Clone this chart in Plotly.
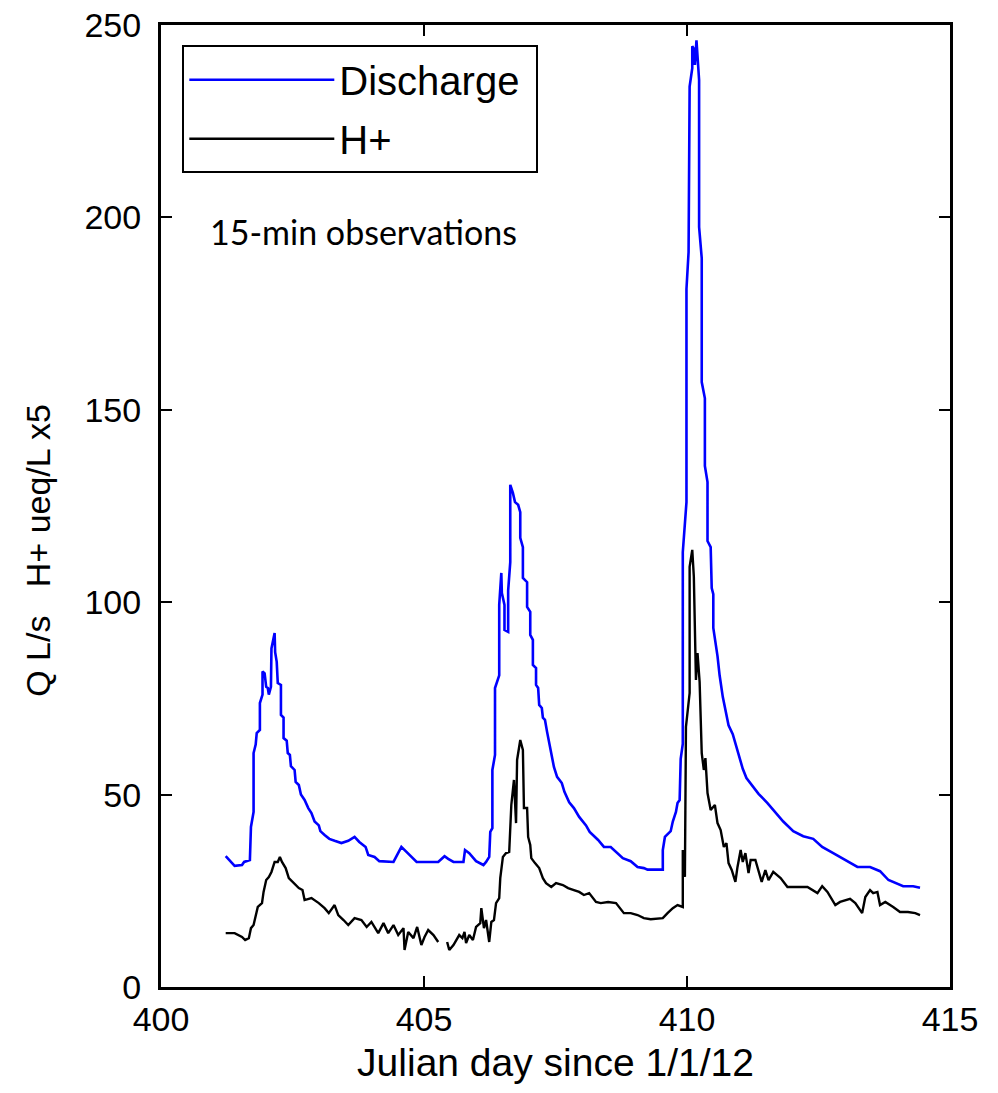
import plotly.graph_objects as go

# Discharge (Q, L/s)
q_day = [401.23, 401.40, 401.54, 401.58, 401.69, 401.71, 401.76, 401.76, 401.80, 401.82,
         401.88, 401.88, 401.93, 401.93, 401.97, 402.00, 402.03, 402.05, 402.09, 402.10,
         402.16, 402.17, 402.20, 402.22, 402.28, 402.28, 402.33, 402.33, 402.39, 402.41,
         402.45, 402.47, 402.54, 402.56, 402.62, 402.66, 402.73, 402.80, 402.86, 402.92,
         403.00, 403.03, 403.11, 403.20, 403.30, 403.43, 403.56, 403.68, 403.77, 403.89,
         403.94, 404.06, 404.15, 404.42, 404.57, 404.86, 405.27, 405.39, 405.46, 405.56,
         405.75, 405.78, 405.86, 405.99, 406.13, 406.18, 406.24, 406.26, 406.30, 406.30,
         406.35, 406.35, 406.43, 406.43, 406.47, 406.48, 406.53, 406.53, 406.60, 406.60,
         406.64, 406.64, 406.69, 406.73, 406.79, 406.83, 406.83, 406.88, 406.88, 406.96,
         406.96, 407.02, 407.02, 407.07, 407.07, 407.13, 407.13, 407.17, 407.19, 407.24,
         407.26, 407.30, 407.34, 407.38, 407.42, 407.47, 407.53, 407.62, 407.67, 407.76,
         407.85, 407.95, 408.08, 408.15, 408.31, 408.42, 408.55, 408.78, 408.93, 409.06,
         409.18, 409.25, 409.54, 409.54, 409.58, 409.69, 409.73, 409.79, 409.82, 409.86,
         409.88, 409.92, 409.92, 409.99, 409.99, 410.03, 410.05, 410.10, 410.10, 410.13,
         410.15, 410.17, 410.18, 410.23, 410.23, 410.28, 410.28, 410.34, 410.34, 410.39,
         410.39, 410.45, 410.47, 410.50, 410.50, 410.58, 410.62, 410.68, 410.73, 410.79,
         410.87, 410.92, 410.98, 411.06, 411.13, 411.21, 411.36, 411.53, 411.68, 411.83,
         412.02, 412.21, 412.40, 412.57, 412.78, 412.97, 413.24, 413.48, 413.67, 413.83,
         414.11, 414.30, 414.43]
q_val = [34.0, 31.5, 31.7, 32.5, 33.0, 41.6, 45.5, 60.8, 63.0, 66.0,
         66.8, 73.8, 76.0, 82.0, 81.5, 78.0, 77.7, 76.0, 78.0, 88.0,
         92.0, 87.0, 84.5, 79.0, 78.5, 70.7, 70.0, 64.7, 64.0, 60.8,
         60.3, 57.4, 56.4, 53.3, 52.5, 50.0, 48.6, 46.5, 45.2, 43.0,
         42.0, 40.5, 39.5, 38.5, 38.0, 37.4, 38.0, 39.0, 37.7, 36.4,
         34.3, 33.8, 32.7, 32.5, 36.4, 32.5, 32.5, 34.0, 33.3, 32.5,
         32.5, 35.6, 34.8, 32.7, 31.7, 32.5, 33.8, 40.3, 41.3, 56.4,
         60.3, 77.7, 81.0, 99.3, 107.6, 102.4, 99.3, 92.8, 92.3, 103.0,
         110.4, 130.5, 128.4, 126.0, 125.3, 123.4, 116.7, 114.3, 106.3, 105.2,
         98.8, 97.5, 91.5, 90.2, 83.7, 82.9, 78.5, 77.7, 73.3, 72.5,
         70.0, 69.4, 66.3, 63.4, 59.8, 57.2, 54.6, 53.0, 50.7, 48.0,
         46.5, 44.2, 42.0, 40.3, 38.2, 36.4, 36.4, 33.5, 32.7, 31.2,
         30.9, 30.5, 30.5, 35.6, 39.0, 40.5, 43.0, 45.5, 47.8, 48.6,
         59.3, 63.2, 113.0, 126.0, 181.4, 191.0, 234.0, 238.8, 244.5, 243.8,
         239.6, 246.0, 246.0, 235.7, 197.5, 189.4, 157.2, 153.0, 135.4, 131.2,
         115.9, 114.3, 103.7, 102.1, 93.3, 86.0, 81.0, 75.4, 72.2, 68.0,
         65.7, 63.2, 60.0, 56.7, 54.3, 52.8, 50.2, 47.8, 45.5, 43.0,
         40.5, 39.2, 38.5, 36.4, 34.8, 33.3, 31.2, 31.2, 30.1, 27.8,
         26.2, 26.2, 25.8]

# H+ (ueq/L x5); None marks the gap in the record
h_day = [401.23, 401.40, 401.54, 401.60, 401.67, 401.71, 401.76, 401.80, 401.84, 401.92,
         401.95, 402.00, 402.05, 402.10, 402.16, 402.22, 402.26, 402.30, 402.37, 402.43,
         402.52, 402.62, 402.69, 402.73, 402.86, 403.00, 403.11, 403.19, 403.30, 403.37,
         403.47, 403.56, 403.68, 403.81, 403.91, 404.00, 404.13, 404.23, 404.32, 404.42,
         404.51, 404.61, 404.63, 404.70, 404.80, 404.87, 404.95, 405.01, 405.08, 405.18,
         405.27, 405.35, 405.44, 405.48, 405.56, 405.61, 405.67, 405.73, 405.77, 405.80,
         405.86, 405.93, 405.99, 406.07, 406.09, 406.14, 406.18, 406.24, 406.28, 406.33,
         406.37, 406.43, 406.45, 406.50, 406.56, 406.62, 406.66, 406.71, 406.75, 406.77,
         406.83, 406.88, 406.90, 406.96, 406.98, 407.02, 407.04, 407.11, 407.19, 407.26,
         407.32, 407.42, 407.51, 407.64, 407.74, 407.85, 407.95, 408.04, 408.14, 408.27,
         408.36, 408.50, 408.65, 408.80, 408.93, 409.06, 409.18, 409.31, 409.54, 409.63,
         409.73, 409.82, 409.92, 409.92, 409.96, 409.98, 410.05, 410.05, 410.10, 410.13,
         410.15, 410.17, 410.20, 410.24, 410.28, 410.32, 410.35, 410.39, 410.45, 410.53,
         410.58, 410.64, 410.70, 410.75, 410.79, 410.85, 410.92, 410.96, 411.02, 411.06,
         411.11, 411.17, 411.21, 411.30, 411.42, 411.49, 411.55, 411.64, 411.78, 411.91,
         412.12, 412.29, 412.48, 412.57, 412.67, 412.82, 412.91, 413.01, 413.10, 413.20,
         413.33, 413.39, 413.48, 413.54, 413.62, 413.67, 413.77, 413.92, 414.05, 414.20,
         414.34, 414.43]
h_val = [14.0, 14.0, 13.0, 12.2, 12.7, 15.3, 16.1, 18.2, 20.8, 21.8,
         24.7, 27.8, 28.6, 29.9, 32.5, 32.5, 33.8, 32.5, 30.9, 28.3,
         27.0, 25.7, 25.2, 22.6, 23.1, 21.8, 20.5, 19.2, 21.3, 18.7,
         17.4, 16.1, 17.9, 17.4, 15.6, 16.9, 14.0, 16.6, 14.0, 16.1,
         13.5, 15.3, 9.6, 14.3, 12.7, 15.6, 10.9, 13.0, 14.8, 13.5,
         11.7, None, 11.7, 9.6, 10.9, 12.2, 13.5, 12.7, 14.3, 11.4,
         13.5, 12.2, 15.6, 16.6, 20.5, 15.3, 17.4, 11.7, 16.9, 17.4,
         21.8, 23.1, 28.3, 33.8, 34.8, 35.1, 47.3, 53.8, 42.6, 59.0,
         64.2, 61.6, 46.5, 46.5, 39.0, 36.9, 33.5, 32.2, 30.9, 28.3,
         27.0, 26.0, 27.0, 26.5, 25.7, 25.2, 24.7, 23.9, 24.4, 22.1,
         21.8, 22.1, 21.8, 19.2, 19.2, 18.7, 17.9, 17.6, 17.9, 19.2,
         20.5, 21.3, 20.8, 35.6, 28.6, 67.6, 76.4, 109.2, 113.6, 106.6,
         94.6, 79.8, 86.8, 79.3, 60.8, 56.4, 59.5, 50.4, 46.0, 47.3,
         42.6, 40.8, 36.4, 37.4, 32.2, 30.4, 27.3, 31.2, 35.6, 32.5,
         34.8, 29.6, 33.0, 33.0, 27.3, 30.4, 27.8, 29.9, 28.3, 26.0,
         26.0, 26.0, 24.4, 26.2, 24.7, 21.3, 22.1, 22.6, 22.9, 21.8,
         19.2, 23.4, 25.2, 24.4, 24.7, 21.3, 22.1, 20.8, 19.5, 19.5,
         19.2, 18.7]

font_main = "Liberation Sans, Arial, sans-serif"

fig = go.Figure()
fig.add_trace(go.Scatter(x=q_day, y=q_val, mode="lines", name="Discharge\u00a0",
                         legendgroup="q", line=dict(color="#0000ff", width=2.6)))
fig.add_trace(go.Scatter(x=h_day, y=h_val, mode="lines", name="H+",
                         legendgroup="h", line=dict(color="#000000", width=2.4),
                         connectgaps=False))

axis_style = dict(showline=True, linecolor="black", linewidth=3, mirror="ticks",
                  ticks="inside", ticklen=11, tickwidth=2, tickcolor="black",
                  showgrid=False, zeroline=False, ticklabeloverflow="allow",
                  automargin=False,
                  tickfont=dict(family=font_main, size=34, color="black"))

fig.update_xaxes(range=[400, 415], dtick=5, tick0=400,
                 title=dict(text="Julian day since 1/1/12", standoff=12,
                            font=dict(family=font_main, size=39, color="black")),
                 **axis_style)
fig.update_yaxes(range=[0, 250], dtick=50, tick0=0, ticklabelstandoff=10,
                 **axis_style)

# y label placed by hand (it sits below the middle of the axis in the original)
fig.add_annotation(text="Q L/s\u00a0\u00a0\u00a0H+ ueq/L x5", textangle=-90,
                   xref="paper", yref="paper", x=-0.156, y=0.30,
                   xanchor="center", yanchor="bottom", showarrow=False,
                   font=dict(family=font_main, size=34, color="black"))

fig.add_annotation(text="15-min observations", xref="paper", yref="paper",
                   x=0.257, y=0.785, xanchor="center", yanchor="middle",
                   showarrow=False,
                   font=dict(family="Lato, sans-serif", size=34, color="black"))

fig.update_layout(
    width=998, height=1093,
    margin=dict(l=153, r=56, t=17, b=114),
    paper_bgcolor="white", plot_bgcolor="white",
    font=dict(family=font_main, color="black"),
    legend=dict(x=0.027, y=0.979, xanchor="left", yanchor="top",
                bordercolor="black", borderwidth=2, bgcolor="white",
                itemwidth=145, tracegroupgap=4, traceorder="grouped",
                font=dict(family=font_main, size=40, color="black")),
)

fig.write_html("out.html")
